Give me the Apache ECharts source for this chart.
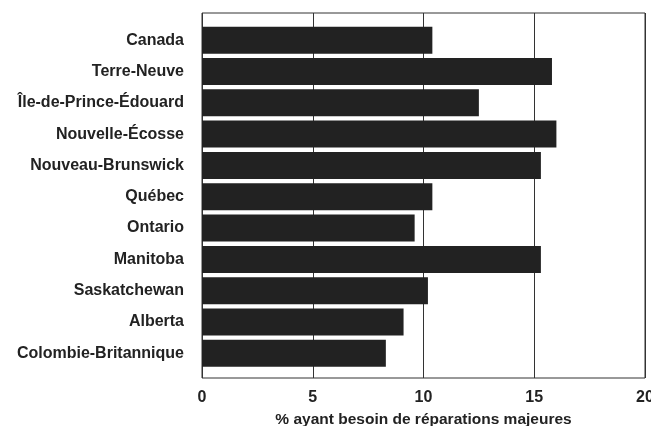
<!DOCTYPE html>
<html>
<head>
<meta charset="utf-8">
<script src="https://cdn.jsdelivr.net/npm/echarts@6/dist/echarts.min.js"></script>
<style>html,body{margin:0;padding:0;background:#fff;}#c{width:651px;height:426px;}</style>
</head>
<body>
<div id="c"></div>
<script>
const categories = ["Canada","Terre-Neuve","Île-de-Prince-Édouard","Nouvelle-Écosse","Nouveau-Brunswick","Québec","Ontario","Manitoba","Saskatchewan","Alberta","Colombie-Britannique"];
const values = [10.4, 15.8, 12.5, 16.0, 15.3, 10.4, 9.6, 15.3, 10.2, 9.1, 8.3];
const xTicks = [0, 5, 10, 15, 20];
const xTitle = "% ayant besoin de réparations majeures";

const font = "'Liberation Sans', Arial, sans-serif";
const chart = echarts.init(document.getElementById('c'));
chart.setOption({
  animation: false,
  backgroundColor: '#ffffff',
  grid: [
    {left: 202, right: 6, top: 13, bottom: 48, show: true, borderColor: '#333', borderWidth: 1, backgroundColor: 'transparent', outerBoundsMode: 'none', containLabel: false},
    {left: 202, right: 6, top: 24.5, bottom: 57, outerBoundsMode: 'none', containLabel: false}
  ],
  xAxis: [
    {
      gridIndex: 0, type: 'value', min: xTicks[0], max: xTicks[xTicks.length - 1], interval: 5,
      axisLine: {show: false}, axisTick: {show: false},
      splitLine: {show: true, lineStyle: {color: '#333', width: 1}},
      axisLabel: {fontFamily: font, fontSize: 16, fontWeight: 'bold', color: '#222', margin: 12},
      name: xTitle, nameLocation: 'middle', nameGap: 34,
      nameTextStyle: {fontFamily: font, fontSize: 15.5, fontWeight: 'bold', color: '#222'}
    },
    {gridIndex: 1, type: 'value', min: 0, max: 20, show: false, splitLine: {show: false}}
  ],
  yAxis: [
    {gridIndex: 0, type: 'value', show: false, splitLine: {show: false}},
    {
      gridIndex: 1, type: 'category', data: categories, inverse: true,
      axisLine: {show: false}, axisTick: {show: false},
      axisLabel: {fontFamily: font, fontSize: 16, fontWeight: 'bold', color: '#222', margin: 18}
    }
  ],
  series: [{
    type: 'bar', xAxisIndex: 1, yAxisIndex: 1, data: values,
    barWidth: 27, itemStyle: {color: '#222222'}, silent: true
  }]
});
</script>
</body>
</html>
